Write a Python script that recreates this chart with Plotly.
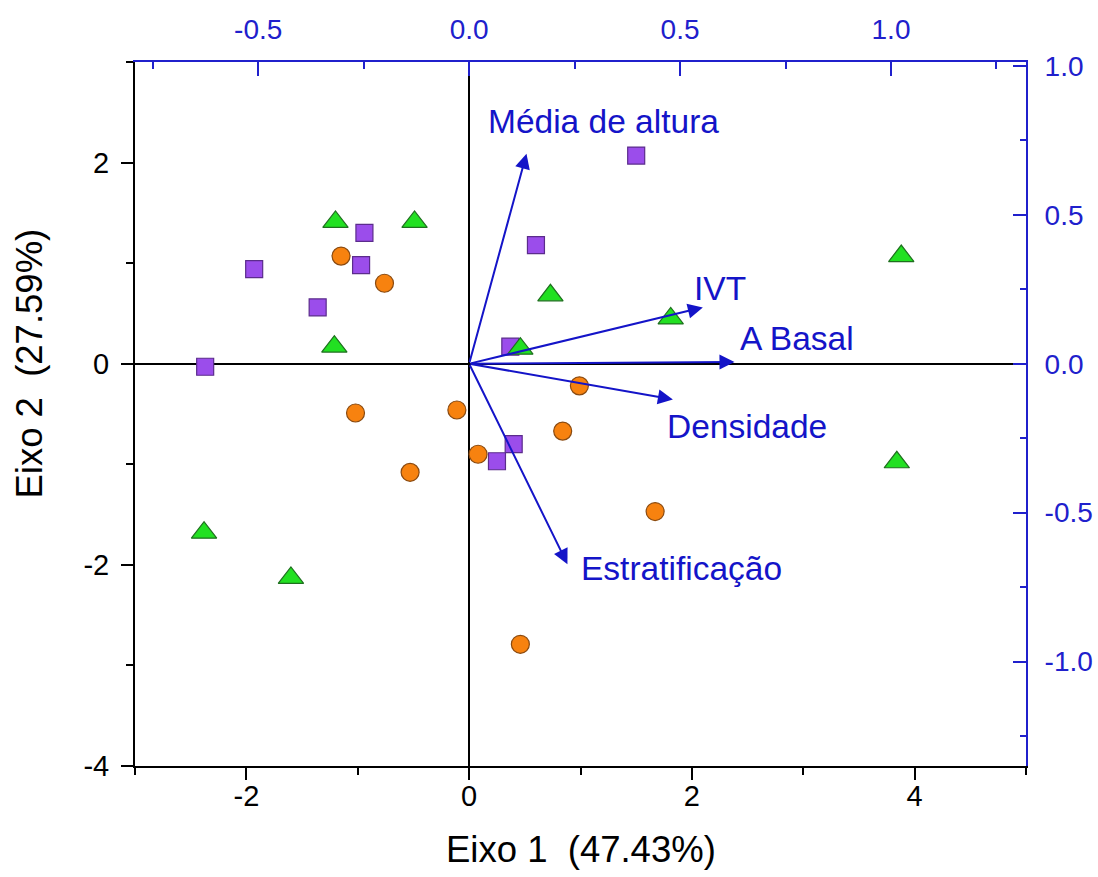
import plotly.graph_objects as go

# ---- data (scores) ----
sq_x = [1.50, 0.60, -0.94, -0.97, -1.93, -1.36, -2.37, 0.37, 0.40, 0.25]
sq_y = [2.07, 1.18, 1.30, 0.98, 0.94, 0.56, -0.03, 0.17, -0.80, -0.97]
ci_x = [-1.15, -0.76, -1.02, -0.11, -0.53, 0.08, 0.99, 0.84, 1.67, 0.46]
ci_y = [1.07, 0.80, -0.49, -0.46, -1.08, -0.90, -0.22, -0.67, -1.47, -2.79]
tr_x = [-1.20, -0.49, -1.21, 0.73, 1.81, 0.46, 3.88, 3.84, -2.38, -1.60]
tr_y = [1.41, 1.41, 0.17, 0.68, 0.45, 0.15, 1.07, -0.98, -1.68, -2.13]

# ---- data (loadings) ----
var_names = ["Média de altura", "IVT", "A Basal", "Densidade", "Estratificação"]
var_x = [0.136, 0.554, 0.629, 0.483, 0.233]
var_y = [0.705, 0.189, 0.006, -0.120, -0.673]

# ---- axis ticks ----
x1_ticks = [-2, 0, 2, 4]
x1_text = ["-2", "0", "2", "4"]
y1_ticks = [-4, -2, 0, 2]
y1_text = ["-4", "-2", "0", "2"]
x2_ticks = [-0.5, 0.0, 0.5, 1.0]
x2_text = ["-0.5", "0.0", "0.5", "1.0"]
y2_ticks = [-1.0, -0.5, 0.0, 0.5, 1.0]
y2_text = ["-1.0", "-0.5", "0.0", "0.5", "1.0"]
x_title = "Eixo 1  (47.43%)"
y_title = "Eixo 2  (27.59%)"

FONT = "Liberation Sans, Arial, sans-serif"
BLUE = "#1414C8"
AXBLUE = "#2020CC"

fig = go.Figure()
fig.add_trace(go.Scatter(x=sq_x, y=sq_y, mode="markers",
                         marker=dict(symbol="square", size=17, color="#9B4DEB",
                                     line=dict(color="#5B2C8C", width=1.2)),
                         showlegend=False))
fig.add_trace(go.Scatter(x=ci_x, y=ci_y, mode="markers",
                         marker=dict(symbol="circle", size=18, color="#F7820F",
                                     line=dict(color="#8A4A10", width=1.2)),
                         showlegend=False))
fig.add_trace(go.Scatter(x=tr_x, y=tr_y, mode="markers",
                         marker=dict(symbol="triangle-up", size=22, color="#22E022",
                                     line=dict(color="#1F6F1F", width=1.2)),
                         showlegend=False))
# invisible trace to activate secondary axes
fig.add_trace(go.Scatter(x=var_x, y=var_y, xaxis="x2", yaxis="y2", mode="markers",
                         marker=dict(size=1, opacity=0), showlegend=False,
                         hoverinfo="skip"))

# label offsets (pixels) relative to arrow tips
label_shift = {
    "Média de altura": (-41, 32),
    "IVT": (-11, 19),
    "A Basal": (4, 23),
    "Densidade": (-8, -27),
    "Estratificação": (12, -4),
}

annotations = []
for name, vx, vy in zip(var_names, var_x, var_y):
    annotations.append(dict(x=vx, y=vy, ax=0, ay=0, xref="x2", yref="y2",
                            axref="x2", ayref="y2", text="", showarrow=True,
                            arrowhead=2, arrowsize=1.5, arrowwidth=2,
                            arrowcolor=BLUE, standoff=0))
    dx, dy = label_shift[name]
    annotations.append(dict(x=vx, y=vy, xref="x2", yref="y2", text=name,
                            showarrow=False, xanchor="left", yanchor="middle",
                            xshift=dx, yshift=dy,
                            font=dict(family=FONT, size=33.5, color=BLUE)))

annotations.append(dict(x=0.5, y=-0.1185, xref="paper", yref="paper", text=x_title,
                        showarrow=False, xanchor="center", yanchor="middle",
                        font=dict(family=FONT, size=36.5, color="black")))
annotations.append(dict(x=-0.118, y=4/7, xref="paper", yref="paper", text=y_title,
                        showarrow=False, xanchor="center", yanchor="middle",
                        textangle=-90,
                        font=dict(family=FONT, size=36.5, color="black")))

fig.update_layout(
    width=1098, height=877, autosize=False,
    margin=dict(l=135, r=72, t=62, b=110.5, autoexpand=False),
    paper_bgcolor="white", plot_bgcolor="white",
    font=dict(family=FONT, size=29, color="black"),
    annotations=annotations,
    xaxis=dict(range=[-3, 5], tickvals=x1_ticks, ticktext=x1_text,
               automargin=False,
               ticks="outside", ticklen=12,
               tickwidth=2, tickcolor="black", showline=True, linecolor="black",
               linewidth=2, showgrid=False, zeroline=True, zerolinecolor="black",
               zerolinewidth=2, tickfont=dict(size=29, color="black"),
               ticklabelstandoff=-9,
               minor=dict(dtick=1, tick0=0, ticks="outside", ticklen=7,
                          tickwidth=2, tickcolor="black", showgrid=False)),
    yaxis=dict(range=[-4, 3], tickvals=y1_ticks, ticktext=y1_text,
               automargin=False,
               ticks="outside", ticklen=12,
               tickwidth=2, tickcolor="black", showline=True, linecolor="black",
               linewidth=2, showgrid=False, zeroline=True, zerolinecolor="black",
               zerolinewidth=2, tickfont=dict(size=29, color="black"),
               ticklabelstandoff=6,
               minor=dict(dtick=1, tick0=0, ticks="outside", ticklen=7,
                          tickwidth=2, tickcolor="black", showgrid=False)),
    xaxis2=dict(range=[-3/3.788, 5/3.788], overlaying="x", side="top",
                automargin=False,
                tickvals=x2_ticks, ticktext=x2_text, ticks="inside", ticklen=14,
                tickwidth=2, tickcolor=AXBLUE, showline=True, linecolor=AXBLUE,
                linewidth=2, showgrid=False, zeroline=False,
                tickfont=dict(size=28, color=AXBLUE), ticklabelstandoff=10,
                minor=dict(dtick=0.25, tick0=0, ticks="inside", ticklen=7,
                           tickwidth=2, tickcolor=AXBLUE, showgrid=False)),
    yaxis2=dict(range=[-4/2.961, 3/2.961], overlaying="y", side="right",
                automargin=False,
                tickvals=y2_ticks, ticktext=y2_text, ticks="inside", ticklen=13,
                tickwidth=2, tickcolor=AXBLUE, showline=True, linecolor=AXBLUE,
                linewidth=2, showgrid=False, zeroline=False,
                tickfont=dict(size=28, color=AXBLUE), ticklabelstandoff=11,
                minor=dict(dtick=0.25, tick0=0, ticks="inside", ticklen=6,
                           tickwidth=2, tickcolor=AXBLUE, showgrid=False)),
)

fig.write_html("out.html", config={"responsive": False, "displayModeBar": False},
               post_script="document.body.style.margin='0';"
                           "document.body.style.overflow='hidden';")
